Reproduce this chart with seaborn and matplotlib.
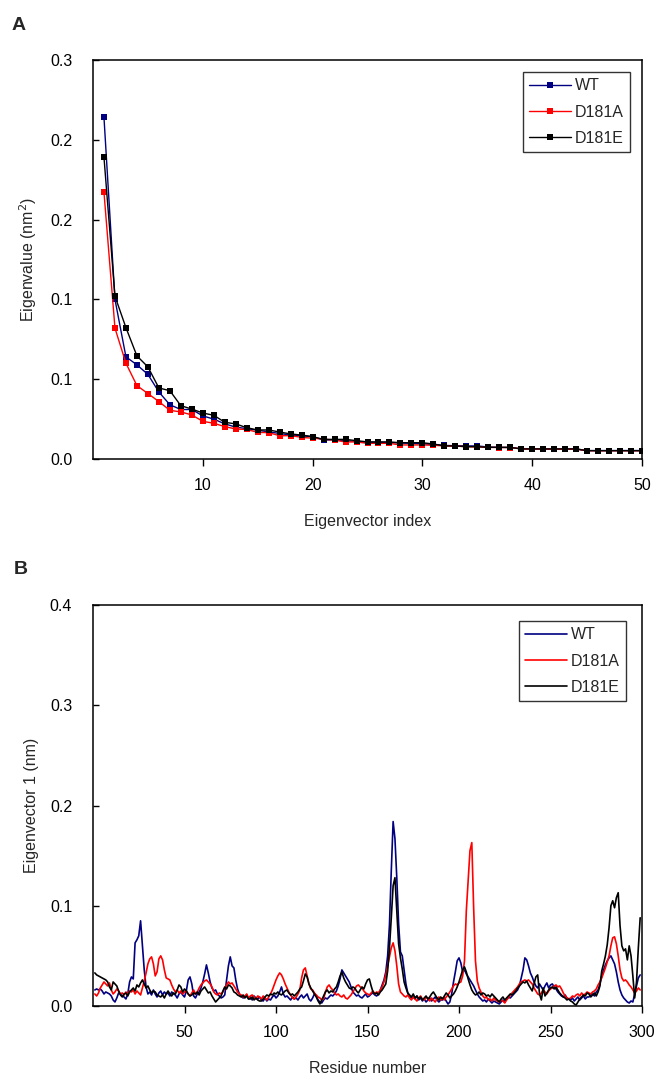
import numpy as np
import pandas as pd
import matplotlib
matplotlib.use("Agg")
import matplotlib.pyplot as plt
import seaborn as sns

# ---- Panel A: eigenvalues of the first 50 eigenvectors ----
eig_index = list(range(1, 51))
eig_wt = [0.214, 0.100, 0.064, 0.059, 0.053, 0.042, 0.034, 0.031, 0.031, 0.027,
          0.025, 0.022, 0.020, 0.019, 0.018, 0.017, 0.016, 0.015, 0.0145, 0.014,
          0.0119, 0.012, 0.0115, 0.011, 0.0105, 0.0105, 0.0103, 0.010, 0.0098, 0.0095,
          0.0092, 0.0085, 0.0083, 0.0082, 0.0082, 0.0075, 0.0073, 0.0072, 0.0065, 0.0064,
          0.0063, 0.0063, 0.0063, 0.0063, 0.0053, 0.0053, 0.0053, 0.0053, 0.0053, 0.0053]
eig_d181a = [0.167, 0.082, 0.060, 0.046, 0.041, 0.036, 0.0305, 0.0295, 0.0276, 0.0236,
             0.0224, 0.0203, 0.0188, 0.0185, 0.0167, 0.0165, 0.0146, 0.0146, 0.0136, 0.013,
             0.0125, 0.0118, 0.0107, 0.0107, 0.0098, 0.0098, 0.0098, 0.0088, 0.0088, 0.0088,
             0.0086, 0.0082, 0.0081, 0.0077, 0.0076, 0.0073, 0.0072, 0.0072, 0.0063, 0.0063,
             0.0062, 0.0062, 0.0062, 0.0062, 0.0052, 0.0052, 0.0052, 0.0052, 0.0052, 0.0052]
eig_d181e = [0.189, 0.102, 0.0823, 0.0646, 0.0577, 0.0445, 0.0428, 0.0334, 0.0313, 0.0288,
             0.0274, 0.023, 0.022, 0.0196, 0.0182, 0.0182, 0.0169, 0.0157, 0.015, 0.014,
             0.0123, 0.0123, 0.0123, 0.0115, 0.0107, 0.0107, 0.0107, 0.0102, 0.0102, 0.0102,
             0.0094, 0.0082, 0.0082, 0.0077, 0.0077, 0.0073, 0.0073, 0.0073, 0.0063, 0.0063,
             0.0063, 0.0063, 0.0063, 0.0063, 0.0052, 0.0052, 0.0052, 0.0052, 0.0052, 0.0052]
a_xticks = [10, 20, 30, 40, 50]
a_yticks = [0.0, 0.05, 0.10, 0.15, 0.20, 0.25]
a_yticklabels = ["0.0", "0.1", "0.1", "0.2", "0.2", "0.3"]

# ---- Panel B: per-residue components of eigenvector 1 (residues 1..299) ----
ev1_wt = [
    0.016, 0.017, 0.016, 0.017, 0.015, 0.012, 0.014, 0.013, 0.012, 0.010,
    0.006, 0.004, 0.008, 0.013, 0.012, 0.010, 0.009, 0.007, 0.012, 0.024,
    0.029, 0.027, 0.063, 0.066, 0.070, 0.085, 0.060, 0.036, 0.019, 0.012,
    0.014, 0.011, 0.016, 0.012, 0.009, 0.013, 0.015, 0.011, 0.014, 0.012,
    0.013, 0.010, 0.014, 0.012, 0.011, 0.008, 0.012, 0.014, 0.011, 0.009,
    0.015, 0.026, 0.029, 0.022, 0.010, 0.008, 0.012, 0.014, 0.018, 0.024,
    0.032, 0.041, 0.033, 0.024, 0.018, 0.015, 0.016, 0.012, 0.010, 0.008,
    0.009, 0.011, 0.026, 0.040, 0.049, 0.040, 0.038, 0.026, 0.017, 0.012,
    0.010, 0.008, 0.009, 0.011, 0.007, 0.009, 0.006, 0.010, 0.008, 0.007,
    0.009, 0.006, 0.005, 0.008, 0.005, 0.007, 0.006, 0.009, 0.011, 0.008,
    0.010, 0.014, 0.019, 0.012, 0.009, 0.010, 0.008, 0.006, 0.009, 0.007,
    0.008, 0.006, 0.009, 0.011, 0.008, 0.010, 0.012, 0.007, 0.005, 0.008,
    0.012, 0.010, 0.006, 0.004, 0.003, 0.006, 0.008, 0.007, 0.009, 0.011,
    0.010, 0.012, 0.015, 0.020, 0.027, 0.036, 0.033, 0.030, 0.027, 0.024,
    0.019, 0.014, 0.012, 0.010, 0.011, 0.009, 0.008, 0.010, 0.012, 0.009,
    0.010, 0.012, 0.013, 0.011, 0.010, 0.012, 0.016, 0.021, 0.026, 0.034,
    0.050, 0.081, 0.135, 0.184, 0.167, 0.128, 0.082, 0.054, 0.050, 0.036,
    0.022, 0.013, 0.010, 0.008, 0.009, 0.007, 0.010, 0.006, 0.008, 0.005,
    0.007, 0.004, 0.006, 0.008, 0.005, 0.007, 0.009, 0.006, 0.004, 0.006,
    0.006, 0.008, 0.005, 0.002, 0.004, 0.012, 0.024, 0.034, 0.045, 0.048,
    0.043, 0.034, 0.036, 0.032, 0.029, 0.026, 0.023, 0.020, 0.016, 0.012,
    0.009, 0.007, 0.005, 0.006, 0.004, 0.007, 0.005, 0.003, 0.005, 0.004,
    0.003, 0.002, 0.004, 0.006, 0.004, 0.007, 0.009, 0.008, 0.010, 0.012,
    0.014, 0.016, 0.020, 0.028, 0.036, 0.048, 0.046, 0.040, 0.033, 0.029,
    0.024, 0.020, 0.018, 0.022, 0.019, 0.016, 0.020, 0.023, 0.018, 0.021,
    0.022, 0.019, 0.017, 0.014, 0.012, 0.010, 0.009, 0.011, 0.008, 0.007,
    0.006, 0.008, 0.005, 0.007, 0.009, 0.006, 0.008, 0.010, 0.007, 0.009,
    0.009, 0.011, 0.012, 0.010, 0.014, 0.016, 0.022, 0.030, 0.036, 0.041,
    0.045, 0.048, 0.050, 0.046, 0.042, 0.034, 0.024, 0.016, 0.011, 0.008,
    0.006, 0.004, 0.003, 0.005, 0.004, 0.012, 0.020, 0.028, 0.031]
ev1_d181a = [
    0.012, 0.010, 0.013, 0.018, 0.021, 0.024, 0.022, 0.020, 0.023, 0.016,
    0.012, 0.014, 0.017, 0.015, 0.012, 0.013, 0.011, 0.014, 0.012, 0.015,
    0.014, 0.016, 0.012, 0.015, 0.013, 0.011, 0.018, 0.025, 0.033, 0.042,
    0.047, 0.049, 0.042, 0.030, 0.034, 0.047, 0.050, 0.046, 0.036, 0.028,
    0.027, 0.026, 0.021, 0.017, 0.014, 0.016, 0.013, 0.015, 0.012, 0.014,
    0.015, 0.012, 0.010, 0.013, 0.016, 0.012, 0.014, 0.018, 0.021, 0.023,
    0.025, 0.026, 0.024, 0.022, 0.019, 0.014, 0.012, 0.011, 0.013, 0.012,
    0.014, 0.018, 0.021, 0.024, 0.022, 0.023, 0.020, 0.017, 0.014, 0.012,
    0.011, 0.009, 0.010, 0.012, 0.008, 0.010, 0.011, 0.009, 0.007, 0.010,
    0.009, 0.007, 0.010, 0.008, 0.006, 0.009, 0.012, 0.016, 0.021, 0.026,
    0.030, 0.033, 0.031, 0.027, 0.022, 0.018, 0.014, 0.011, 0.008, 0.007,
    0.009, 0.012, 0.016, 0.028, 0.036, 0.038, 0.030, 0.022, 0.017, 0.016,
    0.013, 0.011, 0.009, 0.008, 0.006, 0.007, 0.014, 0.019, 0.021, 0.018,
    0.016, 0.013, 0.011, 0.012, 0.010, 0.009, 0.011, 0.008, 0.007, 0.009,
    0.011, 0.014, 0.017, 0.020, 0.021, 0.019, 0.018, 0.015, 0.013, 0.012,
    0.011, 0.013, 0.015, 0.012, 0.014, 0.013, 0.016, 0.019, 0.024, 0.031,
    0.040, 0.049, 0.058, 0.063, 0.055, 0.040, 0.022, 0.014, 0.012, 0.010,
    0.009, 0.011, 0.008, 0.006, 0.009, 0.007, 0.005, 0.008, 0.010, 0.007,
    0.006, 0.009, 0.007, 0.005, 0.008, 0.006, 0.004, 0.007, 0.009, 0.006,
    0.008, 0.006, 0.009, 0.011, 0.014, 0.017, 0.020, 0.022, 0.021, 0.023,
    0.024, 0.030, 0.045, 0.095, 0.125, 0.155, 0.163, 0.098, 0.045, 0.025,
    0.018, 0.014, 0.010, 0.008, 0.009, 0.006, 0.007, 0.005, 0.008, 0.006,
    0.005, 0.004, 0.006, 0.005, 0.003, 0.006, 0.008, 0.011, 0.013, 0.015,
    0.017, 0.019, 0.022, 0.024, 0.025, 0.026, 0.025, 0.026, 0.024, 0.022,
    0.018, 0.015, 0.012, 0.011, 0.013, 0.016, 0.014, 0.012, 0.015, 0.017,
    0.018, 0.020, 0.021, 0.019, 0.020, 0.017, 0.013, 0.010, 0.008, 0.007,
    0.008, 0.010, 0.009, 0.011, 0.012, 0.010, 0.013, 0.011, 0.012, 0.014,
    0.013, 0.012, 0.014, 0.015, 0.017, 0.021, 0.024, 0.028, 0.033, 0.038,
    0.044, 0.050, 0.060, 0.068, 0.069, 0.062, 0.050, 0.036, 0.028, 0.025,
    0.026, 0.024, 0.021, 0.019, 0.016, 0.013, 0.015, 0.018, 0.016]
ev1_d181e = [
    0.033, 0.031, 0.030, 0.029, 0.028, 0.027, 0.026, 0.024, 0.019, 0.016,
    0.024, 0.022, 0.020, 0.015, 0.011, 0.009, 0.012, 0.013, 0.010, 0.014,
    0.016, 0.018, 0.015, 0.021, 0.019, 0.023, 0.026, 0.022, 0.018, 0.020,
    0.016, 0.013, 0.015, 0.014, 0.011, 0.010, 0.009, 0.011, 0.008, 0.012,
    0.015, 0.012, 0.010, 0.013, 0.012, 0.016, 0.021, 0.019, 0.014, 0.017,
    0.015, 0.012, 0.010, 0.011, 0.013, 0.012, 0.014, 0.011, 0.015, 0.017,
    0.019, 0.016, 0.013, 0.014, 0.010, 0.007, 0.004, 0.006, 0.008, 0.010,
    0.015, 0.019, 0.017, 0.021, 0.020, 0.018, 0.014, 0.013, 0.011, 0.010,
    0.009, 0.011, 0.008, 0.010, 0.007, 0.007, 0.009, 0.006, 0.008, 0.006,
    0.005, 0.005, 0.007, 0.009, 0.011, 0.010, 0.012, 0.011, 0.013, 0.012,
    0.014, 0.012, 0.011, 0.013, 0.015, 0.016, 0.013, 0.011, 0.012, 0.010,
    0.012, 0.014, 0.017, 0.019, 0.025, 0.032, 0.029, 0.022, 0.018, 0.015,
    0.012, 0.009, 0.005, 0.002, 0.006, 0.010, 0.014, 0.016, 0.013, 0.015,
    0.014, 0.017, 0.019, 0.024, 0.030, 0.034, 0.028, 0.024, 0.021, 0.018,
    0.017, 0.019, 0.018, 0.015, 0.013, 0.016, 0.019, 0.017, 0.022, 0.026,
    0.027, 0.020, 0.014, 0.012, 0.013, 0.011, 0.014, 0.016, 0.019, 0.022,
    0.035, 0.058, 0.088, 0.120, 0.128, 0.095, 0.062, 0.048, 0.037, 0.024,
    0.018, 0.013, 0.011, 0.009, 0.012, 0.008, 0.010, 0.007, 0.009, 0.006,
    0.008, 0.010, 0.007, 0.009, 0.012, 0.014, 0.011, 0.008, 0.006, 0.009,
    0.007, 0.010, 0.013, 0.011, 0.008, 0.010, 0.012, 0.015, 0.019, 0.024,
    0.030, 0.036, 0.039, 0.034, 0.027, 0.021, 0.016, 0.013, 0.011, 0.012,
    0.014, 0.011, 0.013, 0.012, 0.010, 0.011, 0.009, 0.012, 0.010, 0.008,
    0.006, 0.004, 0.007, 0.009, 0.006, 0.008, 0.010, 0.012, 0.011, 0.013,
    0.015, 0.018, 0.020, 0.022, 0.024, 0.023, 0.025, 0.021, 0.018, 0.015,
    0.022, 0.029, 0.031, 0.012, 0.006, 0.018, 0.010, 0.013, 0.016, 0.018,
    0.019, 0.017, 0.019, 0.016, 0.013, 0.011, 0.009, 0.008, 0.006, 0.007,
    0.005, 0.004, 0.002, 0.001, 0.004, 0.007, 0.009, 0.011, 0.010, 0.013,
    0.012, 0.009, 0.011, 0.013, 0.010, 0.014, 0.020, 0.035, 0.042, 0.050,
    0.061, 0.078, 0.100, 0.105, 0.098, 0.108, 0.113, 0.080, 0.060, 0.055,
    0.057, 0.046, 0.060, 0.050, 0.030, 0.008, 0.024, 0.058, 0.088]
b_xticks = [50, 100, 150, 200, 250, 300]
b_yticks = [0.0, 0.1, 0.2, 0.3, 0.4]

variants = ["WT", "D181A", "D181E"]
colors = {"WT": "#000080", "D181A": "#ff0000", "D181E": "#000000"}

# long-form tables for seaborn
df_a = pd.concat([
    pd.DataFrame({"index": eig_index, "value": v, "variant": name})
    for name, v in zip(variants, [eig_wt, eig_d181a, eig_d181e])
])
df_b = pd.concat([
    pd.DataFrame({"residue": np.arange(1, len(v) + 1), "value": v, "variant": name})
    for name, v in zip(variants, [ev1_wt, ev1_d181a, ev1_d181e])
])

sns.set_style("white")
plt.rcParams["font.family"] = ["Liberation Sans", "DejaVu Sans"]
plt.rcParams["axes.linewidth"] = 1.1

W, H = 662, 1077
fig = plt.figure(figsize=(W / 100, H / 100), dpi=100)
ax_a = fig.add_axes([93 / W, 1 - 459 / H, (642 - 93) / W, (459 - 60) / H])
ax_b = fig.add_axes([93 / W, 1 - 1006 / H, (642 - 93) / W, (1006 - 605) / H])

fs = 11.5

# Panel A
for name in variants:
    sns.lineplot(data=df_a[df_a["variant"] == name], x="index", y="value",
                 ax=ax_a, color=colors[name], lw=1.0, marker="s", markersize=3.8,
                 markeredgewidth=0, label=name)
ax_a.set_xlim(0, 50)
ax_a.set_ylim(0, 0.25)
ax_a.set_xticks(a_xticks)
ax_a.set_yticks(a_yticks)
ax_a.set_yticklabels(a_yticklabels)
ax_a.set_xlabel("Eigenvector index", fontsize=fs, labelpad=15)
ax_a.set_ylabel("Eigenvalue (nm$^2$)", fontsize=fs, labelpad=8)

# Panel B
for name in variants:
    sns.lineplot(data=df_b[df_b["variant"] == name], x="residue", y="value",
                 ax=ax_b, color=colors[name], lw=1.2, label=name)
ax_b.set_xlim(0, 300)
ax_b.set_ylim(0, 0.4)
ax_b.set_xticks(b_xticks)
ax_b.set_yticks(b_yticks)
ax_b.set_yticklabels([f"{t:.1f}" for t in b_yticks])
ax_b.set_xlabel("Residue number", fontsize=fs, labelpad=15)
ax_b.set_ylabel("Eigenvector 1 (nm)", fontsize=fs, labelpad=8)

for ax, pad in ((ax_a, 0.75), (ax_b, 1.0)):
    for s in ax.spines.values():
        s.set_color("black")
        s.set_linewidth(1.1)
    ax.tick_params(axis="x", direction="out", length=5, width=1, pad=9,
                   labelsize=fs, colors="black", bottom=True)
    ax.tick_params(axis="y", direction="in", length=4, width=1, pad=15,
                   labelsize=fs, colors="black", left=True)
    leg = ax.legend(loc="upper right", bbox_to_anchor=(1, 1), fontsize=fs,
                    frameon=True, fancybox=False, edgecolor="black",
                    borderaxespad=pad, borderpad=0.4, labelspacing=0.7,
                    handlelength=2.6, handletextpad=0.25)
    leg.get_frame().set_linewidth(1.0)

fig.text(12 / W, 1 - 25 / H, "A", fontsize=14, fontweight="bold", va="center")
fig.text(14 / W, 1 - 570 / H, "B", fontsize=14, fontweight="bold", va="center")

fig.savefig("out.png", dpi=100)
